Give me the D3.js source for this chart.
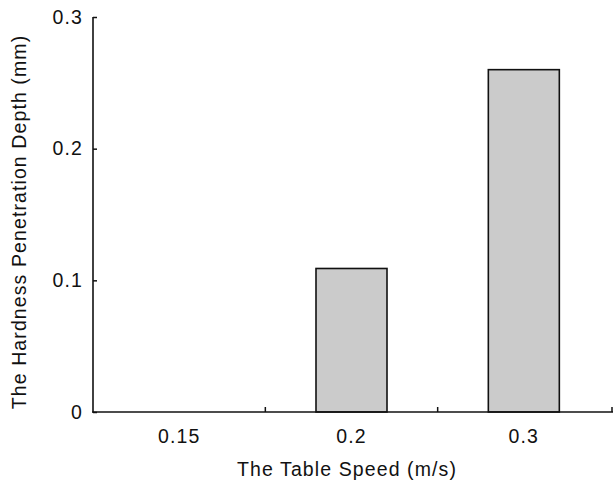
<!DOCTYPE html>
<html><head><meta charset="utf-8">
<script src="https://cdn.jsdelivr.net/npm/d3@7"></script>
<style>body{margin:0;background:#fff;} text{font-family:"Liberation Sans",Arial,sans-serif;fill:#111;}</style>
</head><body><svg id="c" width="613" height="481"></svg>
<script>
const categories = ["0.15", "0.2", "0.3"];
const values = [0, 0.109, 0.26];
const yTicks = [0, 0.1, 0.2, 0.3];
const yTickLabels = ["0", "0.1", "0.2", "0.3"];
const xTitle = "The Table Speed (m/s)";
const yTitle = "The Hardness Penetration Depth (mm)";

const svg = d3.select("#c");
const mLeft = 93, mRight = 610, mTop = 17, mBottom = 412, axisEnd = 612;
const x = d3.scaleBand().domain(categories).range([mLeft, mRight]).paddingInner(0.588).paddingOuter(0.294);
const y = d3.scaleLinear().domain([0, 0.3]).range([mBottom, mTop]);
const fs = 19.5, ls = 1.1;

// bars
svg.selectAll("rect.bar").data(values).enter().append("rect")
  .attr("class","bar")
  .attr("x", (d,i) => x(categories[i]))
  .attr("width", x.bandwidth())
  .attr("y", d => y(d))
  .attr("height", d => y(0) - y(d))
  .attr("fill", "#cbcbcb")
  .attr("stroke", d => d > 0 ? "#111" : "none")
  .attr("stroke-width", 1.6);

// y axis
const yAxis = d3.axisRight(y).tickValues(yTicks).tickSize(4).tickFormat("");
const gy = svg.append("g").attr("transform", `translate(${mLeft},0)`).call(yAxis);
gy.select(".domain").remove();
gy.selectAll(".tick line").attr("stroke","#111").attr("stroke-width",1.5);
svg.append("line").attr("x1",mLeft).attr("x2",mLeft).attr("y1",y(0.3)).attr("y2",y(0)+0.75)
  .attr("stroke","#111").attr("stroke-width",1.6);
svg.selectAll("text.yl").data(yTicks).enter().append("text")
  .attr("class","yl").attr("x", mLeft - 10).attr("y", d => y(d)).attr("dy","0.35em")
  .attr("text-anchor","end").attr("font-size",fs).attr("letter-spacing",ls)
  .text((d,i) => yTickLabels[i]);

// x axis
svg.append("line").attr("x1",mLeft-0.8).attr("x2",axisEnd+1).attr("y1",mBottom).attr("y2",mBottom)
  .attr("stroke","#111").attr("stroke-width",1.6);
const step = x.step();
const bounds = categories.map((c, i) => i === categories.length - 1 ? axisEnd : x(c) + x.bandwidth() + (step - x.bandwidth())/2);
svg.selectAll("line.xt").data(bounds).enter().append("line")
  .attr("class","xt").attr("x1", d => d).attr("x2", d => d)
  .attr("y1", mBottom).attr("y2", mBottom - 5).attr("stroke","#111").attr("stroke-width",1.5);
svg.selectAll("text.xl").data(categories).enter().append("text")
  .attr("class","xl").attr("x", d => x(d) + x.bandwidth()/2).attr("y", 443)
  .attr("text-anchor","middle").attr("font-size",fs).attr("letter-spacing",ls)
  .text(d => d);

// titles
svg.append("text").attr("x", 347).attr("y", 476).attr("text-anchor","middle")
  .attr("font-size",fs).attr("letter-spacing",ls).text(xTitle);
svg.append("text").attr("transform","translate(26,222) rotate(-90)").attr("text-anchor","middle")
  .attr("font-size",fs).attr("letter-spacing",ls).text(yTitle);
</script></body></html>
